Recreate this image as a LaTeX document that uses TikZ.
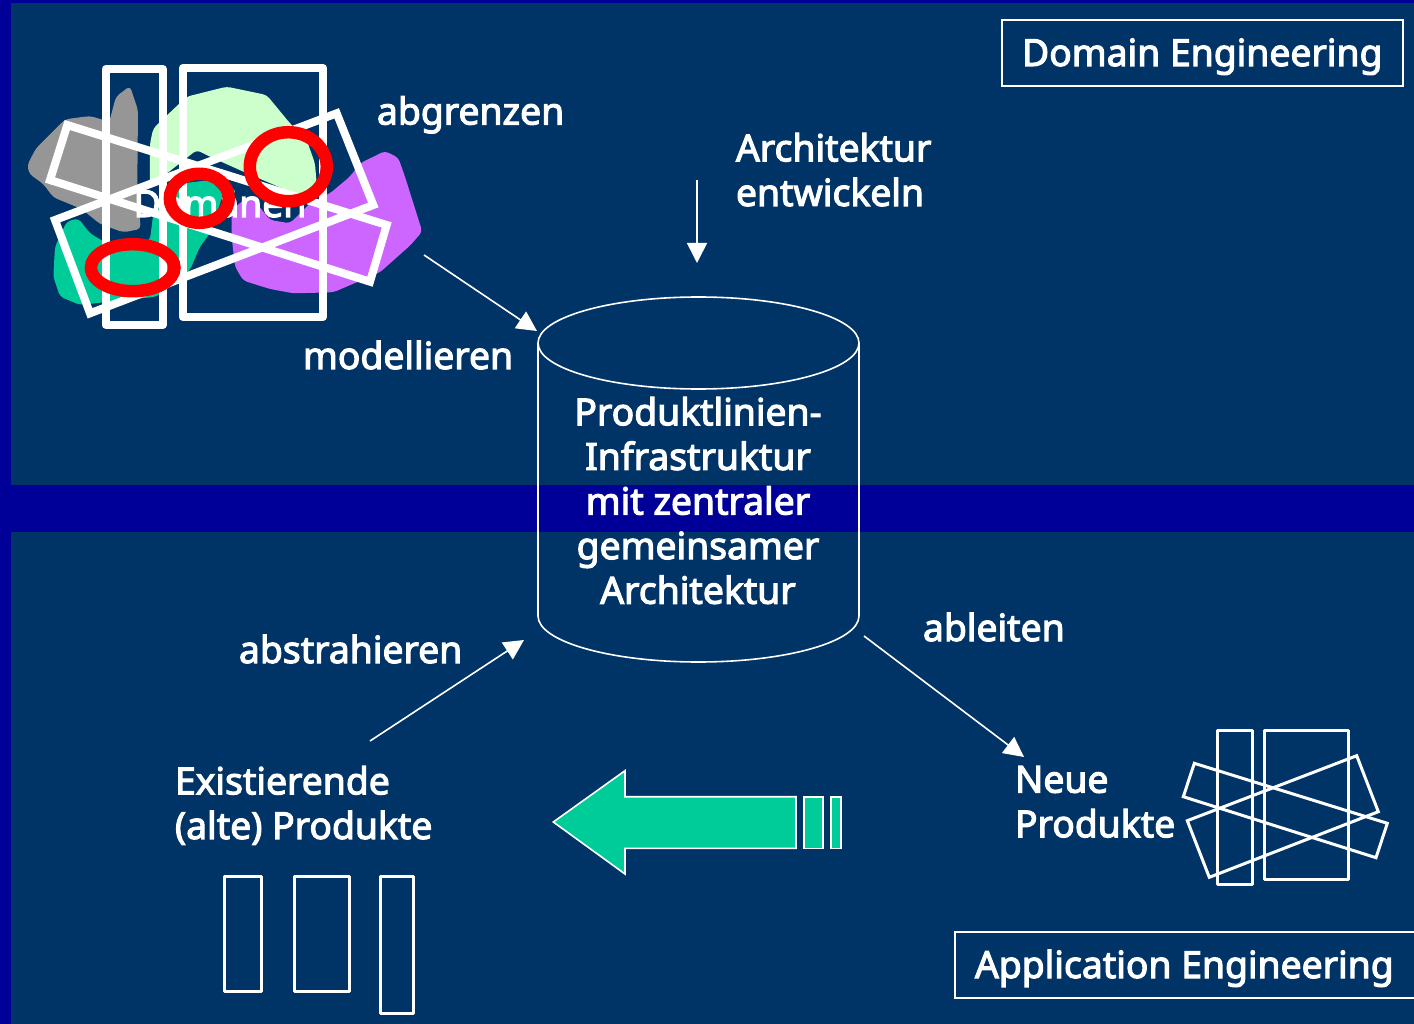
\documentclass[tikz,border=0pt]{standalone}
\usepackage{fontspec}
\usetikzlibrary{arrows.meta}
\newfontfamily\lblfont[FakeBold=3]{Noto Sans}
\definecolor{panel}{HTML}{003366}
\definecolor{band}{HTML}{000099}
\definecolor{teal}{HTML}{00CC99}
\definecolor{mint}{HTML}{CCFFCC}
\definecolor{violet}{HTML}{CC66FF}
\definecolor{stone}{HTML}{969696}
\tikzset{
  lbl/.style={text=white,inner sep=0pt,outer sep=0pt,font=\lblfont\fontsize{37.3}{44.6}\selectfont,align=left},
  lblb/.style={lbl,anchor=base west},
  flow/.style={draw=white,line width=1.6pt,-{Triangle[length=20pt,width=20pt]}},
  titlebox/.style={draw=white,line width=1.6pt},
  thick rect/.style={draw=white,line width=8pt,line join=round},
  thick tilt/.style={draw=white,line width=8pt,line join=miter},
  thin rect/.style={draw=white,line width=3pt,line join=round},
  thin tilt/.style={draw=white,line width=3pt,line join=miter},
  red ring/.style={draw=red,line width=12.5pt},
  blob/.style={line join=round,rounded corners=4pt},
  outline/.style={draw=white,line width=1.6pt}
}
\begin{document}
\begin{tikzpicture}[x=1pt,y=-1pt]
\useasboundingbox (0,0) rectangle (1414,1024);
\fill[band] (0,0) rectangle (1414,1024);
\fill[panel] (11,3) rectangle (1414,485);
\fill[panel] (11,532) rectangle (1414,1024);
% blobs: zoom coordinates
\begin{scope}[shift={(10,50)},x=0.3333pt,y=-0.3333pt]
\fill[stone,blob] (52,345)--(78,295)--(165,208)--(240,198)--(298,215)--(318,140)--(360,108)--(384,180)--(382,400)--(392,537)--(340,547)--(270,522)--(215,477)--(130,442)--(100,402)--(58,372)--cycle;
\fill[mint,blob] (420,280)--(430,235)--(530,140)--(650,110)--(770,135)--(840,220)--(890,270)--(915,340)--(920,400)--(880,440)--(840,425)--(700,365)--(600,320)--(560,300)--(535,320)--(420,410)--cycle;
\fill[teal,blob] (130,680)--(135,590)--(170,515)--(205,505)--(240,550)--(290,580)--(350,600)--(420,570)--(430,490)--(520,400)--(600,390)--(640,430)--(600,550)--(570,590)--(540,660)--(480,710)--(440,740)--(300,755)--(210,765)--(150,740)--cycle;
\fill[violet,blob] (665,560)--(665,480)--(720,435)--(780,510)--(840,520)--(900,460)--(960,430)--(1020,380)--(1050,340)--(1125,303)--(1165,323)--(1185,380)--(1237,545)--(1200,587)--(1110,667)--(970,727)--(850,730)--(780,717)--(700,692)--(675,650)--cycle;
\end{scope}
\node[lbl,anchor=base] (domaenen) at (220,217) {Domänen};
% thick rectangles
\draw[thick rect] (105.7,69) rectangle (162.7,325);
\draw[thick rect] (182.7,68) rectangle (323,317);
\draw[thick tilt] (67.3,125) -- (386.7,225) -- (370,281.7) -- (50,180) -- cycle;
\draw[thick tilt] (55,220) -- (336.7,113.3) -- (373.3,205) -- (90,313.3) -- cycle;
% red rings
\draw[red ring] (288.3,166.7) ellipse (38.5pt and 34.5pt);
\draw[red ring] (199.3,198.3) ellipse (29.5pt and 24.5pt);
\draw[red ring] (132.7,267.7) ellipse (41.8pt and 23.5pt);
% cylinder
\draw[outline] (538,343) -- (538,616) .. controls (538,641.4) and (609.9,662) .. (698.5,662) .. controls (787.1,662) and (859,641.4) .. (859,616) -- (859,343);
\draw[outline] (698.5,343) ellipse (160.5pt and 46pt);
\node[lbl,align=center] (cyltext) at (698,500.5) {Produktlinien-\\Infrastruktur\\mit zentraler\\gemeinsamer\\Architektur};
% labels
\node[lblb] (abgrenzen) at (377,124.5) {abgrenzen};
\node[lbl,anchor=north west] (archent) at (736,133) {Architektur\\entwickeln};
\node[lblb] (modellieren) at (303,369) {modellieren};
\node[lblb] (abstrahieren) at (239,663) {abstrahieren};
\node[lblb] (ableiten) at (923,641) {ableiten};
\node[lbl,anchor=north west] (exist) at (175,766) {Existierende\\(alte) Produkte};
\node[lbl,anchor=north west] (neue) at (1015,766) {Neue\\Produkte};
\node[titlebox,minimum width=401pt,minimum height=66pt,inner sep=0pt] (dbox) at (1202.5,53) {};
\node[lblb] (dtext) at (1022,66) {Domain Engineering};
\node[titlebox,anchor=west,minimum width=470pt,minimum height=66pt,inner sep=0pt] (abox) at (954,965) {};
\node[lblb] (atext) at (975,978) {Application Engineering};
% connectors
\coordinate (m0) at (424,255); \coordinate (m1) at (537,331);
\coordinate (e0) at (697,180); \coordinate (e1) at (697,263);
\coordinate (b0) at (370,741); \coordinate (b1) at (524,640);
\coordinate (l0) at (864,636); \coordinate (l1) at (1024,757);
\draw[flow] (m0) -- (m1);
\draw[flow] (e0) -- (e1);
\draw[flow] (b0) -- (b1);
\draw[flow] (l0) -- (l1);
% right product rectangles
\draw[thin rect] (1217.3,730.7) rectangle (1252,884);
\draw[thin rect] (1264,730) rectangle (1348.7,879);
\draw[thin tilt] (1194.3,763.3) -- (1387.3,823.3) -- (1376,857.7) -- (1183.3,796.7) -- cycle;
\draw[thin tilt] (1187.3,820.7) -- (1356.7,755.7) -- (1378.3,811.7) -- (1209.3,877.3) -- cycle;
% old products
\draw[thin rect] (224.5,876) rectangle (261,991);
\draw[thin rect] (294,876) rectangle (349,991);
\draw[thin rect] (380,876) rectangle (413,1013);
% big arrow
\draw[fill=teal,draw=white,line width=1.6pt,line join=miter] (553.3,822) -- (625,770.7) -- (625,796.7) -- (796,796.7) -- (796,848.3) -- (625,848.3) -- (625,874) -- cycle;
\draw[fill=teal,draw=white,line width=1.6pt] (804,796.7) rectangle (822.7,848.3);
\draw[fill=teal,draw=white,line width=1.6pt] (831,796.7) rectangle (841,848.3);
\end{tikzpicture}
\end{document}
